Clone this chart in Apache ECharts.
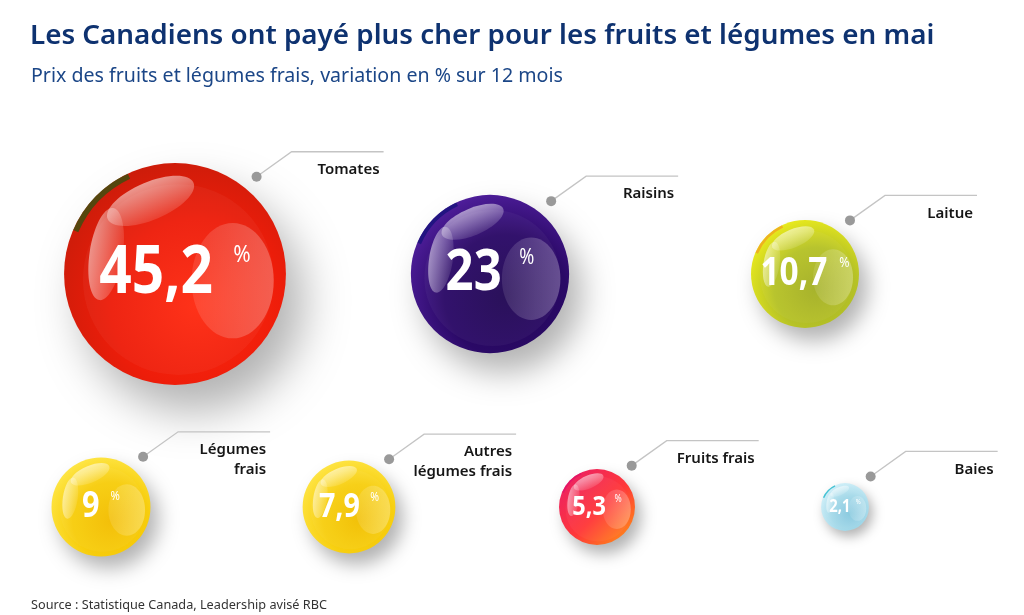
<!DOCTYPE html>
<html><head><meta charset="utf-8">
<script src="https://cdn.jsdelivr.net/npm/echarts@6/dist/echarts.min.js"></script>
<style>html,body{margin:0;padding:0;background:#fff}#c{width:1024px;height:615px}</style>
</head><body><div id="c"></div>
<script>
const titleText = 'Les Canadiens ont payé plus cher pour les fruits et légumes en mai';
const subtitleText = 'Prix des fruits et légumes frais, variation en % sur 12 mois';
const sourceText = 'Source : Statistique Canada, Leadership avisé RBC';

const row1Categories = ['Tomates', 'Raisins', 'Laitue'];
const row1Values = [45.2, 23, 10.7];
const row2Categories = ['Légumes\nfrais', 'Autres\nlégumes frais', 'Fruits frais', 'Baies'];
const row2Values = [9, 7.9, 5.3, 2.1];

// styles (kept separate from data)
const row1Palettes = [
  { kind: 'radial', stops: ['#ff2a10', '#ee1d0a', '#c81c0a'], rim: '#2c5410' },
  { kind: 'radial', stops: ['#220854', '#2a0966', '#5220a0'], rim: '#14127a' },
  { kind: 'radial', stops: ['#a4b024', '#b6c226', '#eeee1c'], rim: '#f0a020' }
];
const row2Palettes = [
  { kind: 'radial', stops: ['#f3bd00', '#f7cd0c', '#ffe84a'], rim: null },
  { kind: 'radial', stops: ['#f2bf00', '#f7cf10', '#ffe648'], rim: null },
  { kind: 'linear', stops: ['#e81c6c', '#ff3838', '#ff9a12'], rim: '#e0106a' },
  { kind: 'radial', stops: ['#86c8de', '#a6daea', '#d6f2fa'], rim: '#18b4c8' }
];

const FONT = "'Noto Sans', 'Open Sans', sans-serif";
const SIZE_K = 16.5;

function fmt(v) { return String(v).replace('.', ','); }

function makeRender(categories, palettes) {
  return function (params, api) {
    const i = params.dataIndex;
    const pt = api.coord([api.value(0), api.value(1)]);
    const v = api.value(2);
    const r = SIZE_K * Math.sqrt(v);
    const cx = pt[0], cy = pt[1];
    const pal = palettes[i];
    const stops = [
      { offset: 0, color: pal.stops[0] },
      { offset: 0.55, color: pal.stops[1] },
      { offset: 1, color: pal.stops[2] }
    ];
    const fill = pal.kind === 'linear'
      ? new echarts.graphic.LinearGradient(0, 0, 1, 1, stops)
      : new echarts.graphic.RadialGradient(0.6, 0.64, 0.7, stops);
    const children = [];
    children.push({
      type: 'circle', shape: { cx, cy, r },
      style: {
        fill, shadowBlur: Math.max(12, r * 0.4), shadowOffsetX: r * 0.16, shadowOffsetY: r * 0.24,
        shadowColor: 'rgba(0,0,0,0.3)'
      }
    });
    children.push({
      type: 'circle', shape: { cx: cx + r * 0.03, cy: cy + r * 0.05, r: r * 0.86 },
      style: { fill: 'rgba(255,255,255,0.04)' }
    });
    if (pal.rim) {
      children.push({
        type: 'arc', shape: { cx, cy, r: r * 0.975, startAngle: Math.PI * 1.13, endAngle: Math.PI * 1.36, clockwise: true },
        style: { stroke: pal.rim, lineWidth: Math.max(1.5, r * 0.05), fill: null, opacity: 0.75 }
      });
    }
    children.push({
      type: 'ellipse', shape: { cx: cx + r * 0.52, cy: cy + r * 0.06, rx: r * 0.37, ry: r * 0.52 },
      style: { fill: new echarts.graphic.LinearGradient(0, 0, 1, 0, [
        { offset: 0, color: 'rgba(255,255,255,0.10)' }, { offset: 1, color: 'rgba(255,255,255,0.26)' }]) }
    });
    children.push({
      type: 'ellipse', x: cx - r * 0.22, y: cy - r * 0.66, rotation: 0.4,
      shape: { cx: 0, cy: 0, rx: r * 0.42, ry: r * 0.17 },
      style: { fill: new echarts.graphic.LinearGradient(0, 0, 0, 1, [
        { offset: 0, color: 'rgba(255,255,255,0.55)' }, { offset: 1, color: 'rgba(255,255,255,0.12)' }]) }
    });
    children.push({
      type: 'ellipse', x: cx - r * 0.62, y: cy - r * 0.18, rotation: -0.15,
      shape: { cx: 0, cy: 0, rx: r * 0.15, ry: r * 0.42 },
      style: { fill: new echarts.graphic.LinearGradient(0, 0, 1, 0, [
        { offset: 0, color: 'rgba(255,255,255,0.5)' }, { offset: 1, color: 'rgba(255,255,255,0.1)' }]) }
    });
    const fs = Math.min(0.72 * r, 66);
    const pfs = Math.max(7, fs * 0.37);
    children.push({
      type: 'text', x: cx, y: cy, scaleX: 0.86,
      style: {
        text: '{v|' + fmt(v) + '}{p|%}',
        align: 'center', verticalAlign: 'middle',
        rich: {
          v: { fontSize: fs, fontWeight: 'bold', fontFamily: FONT, fill: '#ffffff', lineHeight: fs },
          p: { fontSize: pfs, fontFamily: FONT, fill: '#ffffff', lineHeight: pfs, verticalAlign: 'top', padding: [fs * 0.03, 0, 0, fs * 0.36] }
        }
      }
    });
    const a = 50 * Math.PI / 180;
    const dx = cx + (r + 16) * Math.cos(a), dy = cy - (r + 16) * Math.sin(a);
    const kx = dx + 35, ky = dy - 25, ex = kx + 92;
    children.push({
      type: 'polyline', shape: { points: [[dx, dy], [kx, ky], [ex, ky]] },
      style: { stroke: '#c4c4c4', lineWidth: 1.3, fill: null }
    });
    children.push({
      type: 'circle', shape: { cx: dx, cy: dy, r: 5 }, style: { fill: '#999999' }
    });
    children.push({
      type: 'text', x: ex - 4, y: ky + 8,
      style: {
        text: categories[i], align: 'right', verticalAlign: 'top',
        fontSize: 15, fontWeight: 600, fontFamily: FONT, fill: '#161616', lineHeight: 20
      }
    });
    return { type: 'group', children };
  };
}

const chart = echarts.init(document.getElementById('c'), null, { renderer: 'canvas' });
const hiddenAxis = { show: false };
chart.setOption({
  backgroundColor: '#ffffff',
  animation: false,
  title: [
    { text: titleText, left: 25, top: 17, textStyle: { fontFamily: FONT, fontSize: 27.8, fontWeight: 600, color: '#0e3270' } },
    { text: subtitleText, left: 26, top: 61, textStyle: { fontFamily: FONT, fontSize: 19.6, fontWeight: 'normal', color: '#1b4687' } },
    { text: sourceText, left: 26, top: 594, textStyle: { fontFamily: FONT, fontSize: 12.7, fontWeight: 'normal', color: '#333333' } }
  ],
  grid: [
    { left: 175, right: 1024 - 805, top: 149, height: 250 },
    { left: 101, right: 1024 - 845, top: 457, height: 100 }
  ],
  xAxis: [
    Object.assign({ type: 'category', data: row1Categories, boundaryGap: false, gridIndex: 0 }, hiddenAxis),
    Object.assign({ type: 'category', data: row2Categories, boundaryGap: false, gridIndex: 1 }, hiddenAxis)
  ],
  yAxis: [
    Object.assign({ type: 'value', min: -1, max: 1, gridIndex: 0 }, hiddenAxis),
    Object.assign({ type: 'value', min: -1, max: 1, gridIndex: 1 }, hiddenAxis)
  ],
  series: [
    {
      type: 'custom', xAxisIndex: 0, yAxisIndex: 0, clip: false,
      renderItem: makeRender(row1Categories, row1Palettes),
      encode: { x: 0, y: 1 },
      data: row1Values.map((v, i) => [i, 0, v])
    },
    {
      type: 'custom', xAxisIndex: 1, yAxisIndex: 1, clip: false,
      renderItem: makeRender(row2Categories, row2Palettes),
      encode: { x: 0, y: 1 },
      data: row2Values.map((v, i) => [i, 0, v])
    }
  ]
});
</script>
</body></html>
